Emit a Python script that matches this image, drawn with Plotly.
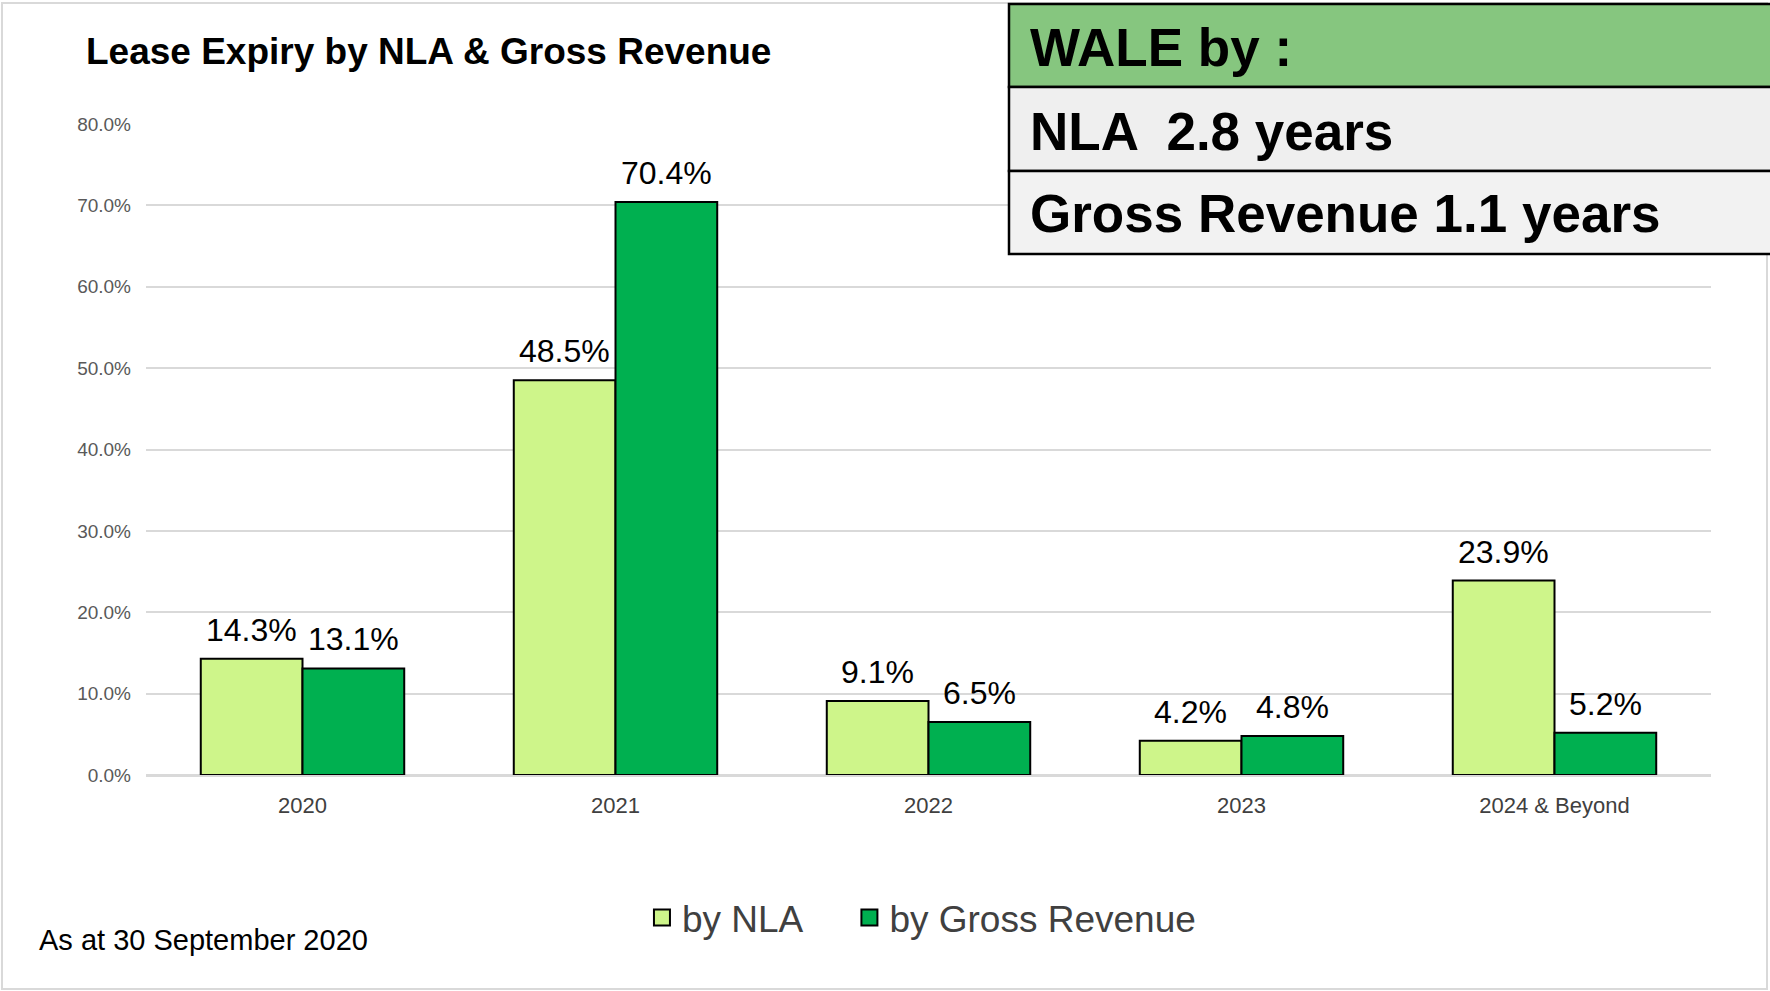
import plotly.graph_objects as go

categories = ["2020", "2021", "2022", "2023", "2024 & Beyond"]
by_nla = [14.3, 48.5, 9.1, 4.2, 23.9]
by_gross_revenue = [13.1, 70.4, 6.5, 4.8, 5.2]
y_ticks = [0, 10, 20, 30, 40, 50, 60, 70, 80]
wale_rows = ["WALE by :", "NLA  2.8 years", "Gross Revenue 1.1 years"]
series_names = ["by NLA", "by Gross Revenue"]

W, H = 1770, 991
L, R, T, B = 146, 59, 124, 216
pw, ph = W - L - R, H - T - B
BARGAP = 0.35


def px(x):
    return (x - L) / pw


def py(y):
    return (H - B - y) / ph


FONT = "Liberation Sans, Arial, sans-serif"
NLA_COLOR = "#CEF58A"
GR_COLOR = "#00B050"

fig = go.Figure()
fig.add_trace(go.Bar(
    x=categories, y=by_nla, name=series_names[0], showlegend=False,
    marker=dict(color=NLA_COLOR, line=dict(color="#000000", width=2)),
))
fig.add_trace(go.Bar(
    x=categories, y=by_gross_revenue, name=series_names[1], showlegend=False,
    marker=dict(color=GR_COLOR, line=dict(color="#000000", width=2)),
))
# legend entries (larger square swatches); no visible data
legend_labels = [series_names[0] + "\u00a0" * 4, series_names[1]]
for nm, col in zip(legend_labels, [NLA_COLOR, GR_COLOR]):
    fig.add_trace(go.Scatter(
        x=categories[:1], y=[None], mode="markers", name=nm,
        marker=dict(symbol="square", size=20, color=col, line=dict(color="#000000", width=2)),
        hoverinfo="skip",
    ))

shapes = []
shapes.append(dict(type="rect", xref="paper", yref="paper",
                   x0=px(2), x1=px(1767), y0=py(989), y1=py(3),
                   line=dict(color="#D9D9D9", width=2), layer="below"))
row_edges = [4, 87, 171, 254]
row_fills = ["#86C67F", "#EFEFEF", "#F2F2F2"]
for i in range(3):
    shapes.append(dict(type="rect", xref="paper", yref="paper",
                       x0=px(1009), x1=px(1772), y0=py(row_edges[i + 1]), y1=py(row_edges[i]),
                       fillcolor=row_fills[i], line=dict(color="#000000", width=2.5),
                       layer="above"))

annotations = []
half = pw / len(categories) * (1 - BARGAP) / 4
for vals, sgn in [(by_nla, -1), (by_gross_revenue, 1)]:
    for idx, v in enumerate(vals):
        annotations.append(dict(text="%.1f%%" % v, x=idx, y=v, xref="x", yref="y",
                                xanchor="center", yanchor="bottom", xshift=sgn * half, yshift=9,
                                showarrow=False, font=dict(size=32, color="#000000", family=FONT)))

row_text_y = [48, 131, 214]
for txt, yy in zip(wale_rows, row_text_y):
    annotations.append(dict(text="<b>%s</b>" % txt, xref="paper", yref="paper",
                            x=px(1028), y=py(yy), xanchor="left", yanchor="middle",
                            showarrow=False, font=dict(size=53, color="#000000", family=FONT)))
annotations.append(dict(text="As at 30 September 2020", xref="paper", yref="paper",
                        x=px(37), y=py(940), xanchor="left", yanchor="middle",
                        showarrow=False, font=dict(size=29, color="#000000", family=FONT)))

fig.update_layout(
    width=W, height=H,
    margin=dict(l=L, r=R, t=T, b=B, autoexpand=False),
    paper_bgcolor="#FFFFFF", plot_bgcolor="#FFFFFF",
    font=dict(family=FONT),
    title=dict(text="<b>Lease Expiry by NLA & Gross Revenue</b>",
               x=86 / W, xanchor="left", xref="container",
               y=1 - 51 / H, yanchor="middle", yref="container",
               font=dict(size=37, color="#000000", family=FONT)),
    barmode="group", bargap=BARGAP, bargroupgap=0,
    showlegend=True,
    legend=dict(orientation="h", x=0.4955, xanchor="center", y=py(918), yanchor="middle",
                font=dict(size=37, color="#404040", family=FONT),
                bgcolor="rgba(0,0,0,0)", itemwidth=30, itemsizing="trace",
                traceorder="normal"),
    xaxis=dict(type="category", categoryarray=categories, categoryorder="array",
               range=[-0.5, len(categories) - 0.5],
               showgrid=False, showline=False, ticks="",
               tickfont=dict(size=22, color="#404040", family=FONT),
               ticklabelstandoff=15),
    yaxis=dict(range=[0, 80], tickvals=y_ticks,
               ticktext=["%.1f%%" % v for v in y_ticks],
               showgrid=True, gridcolor="#D9D9D9", gridwidth=2,
               zeroline=True, zerolinecolor="#D9D9D9", zerolinewidth=2.5,
               showline=False, ticks="",
               tickfont=dict(size=19, color="#595959", family=FONT),
               ticklabelstandoff=14),
    shapes=shapes,
    annotations=annotations,
)

fig.write_html("out.html", config={"displayModeBar": False},
               post_script="document.body.style.margin='0';document.body.style.overflow='hidden';")
